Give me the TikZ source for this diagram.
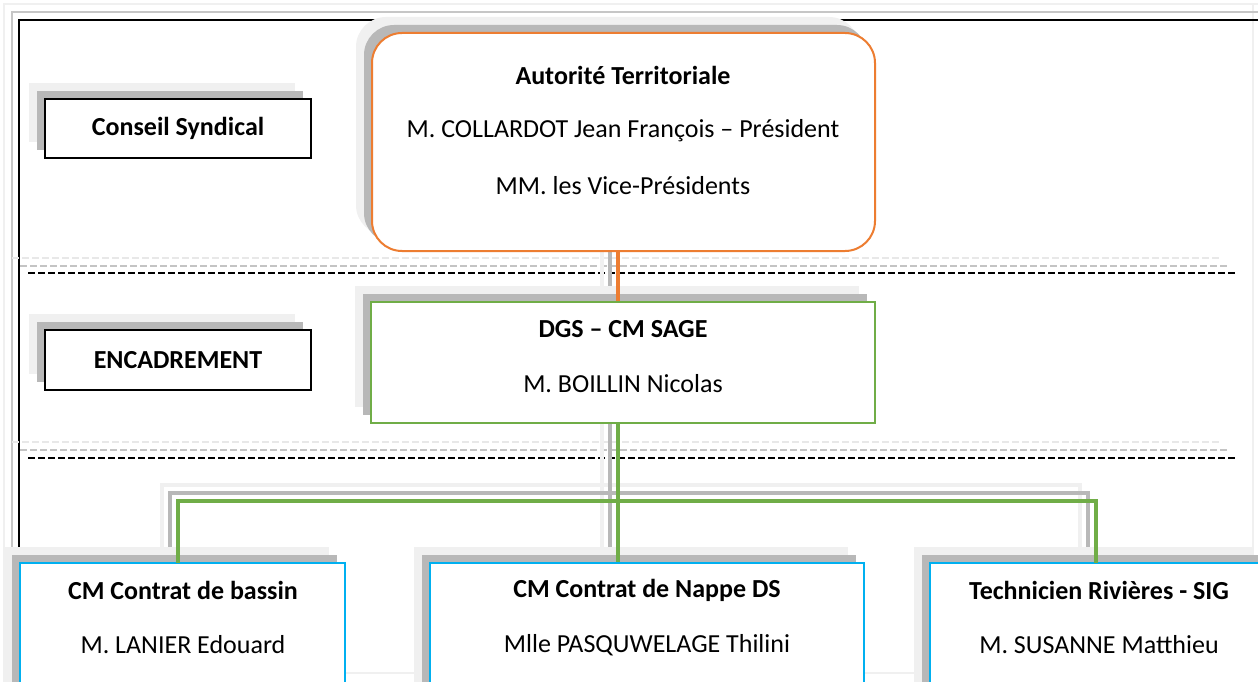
\documentclass[tikz,border=0pt]{standalone}
\usepackage{fontspec}
\setmainfont{Carlito}
\usetikzlibrary{shadows}
\definecolor{shgrey}{HTML}{B8B8B8}
\definecolor{shlight}{HTML}{F0F0F0}
\definecolor{orgline}{HTML}{ED7D31}
\definecolor{grnline}{HTML}{70AD47}
\definecolor{blueline}{HTML}{00B0F0}
\definecolor{dashgrey}{HTML}{C4C4C4}
\definecolor{dashlight}{HTML}{E8E8E8}
\begin{document}
\begin{tikzpicture}[x=1pt,y=-1pt,
  shadowed/.style={general shadow={shadow xshift=-16pt,shadow yshift=16pt,fill=shlight,draw=none},
                   general shadow={shadow xshift=-8pt,shadow yshift=8pt,fill=shgrey,draw=none}},
  boxbase/.style={rectangle,fill=white,inner sep=0pt,shadowed},
  labelbox/.style={boxbase,draw=black,line width=2pt},
  autbox/.style={boxbase,draw=orgline,line width=2pt,rounded corners=30pt},
  dgsbox/.style={boxbase,draw=grnline,line width=2pt},
  staffbox/.style={boxbase,draw=blueline,line width=2pt},
  titletxt/.style={font=\fontsize{26}{30}\selectfont\bfseries,inner sep=0pt},
  nametxt/.style={font=\fontsize{26}{30}\selectfont,inner sep=0pt},
  sepblack/.style={draw=black,line width=1.5pt,dash pattern=on 7pt off 3pt},
  sepgrey/.style={draw=dashgrey,line width=1.5pt,dash pattern=on 7pt off 3pt},
  seplight/.style={draw=dashlight,line width=1.5pt,dash pattern=on 7pt off 3pt},
  orgconn/.style={draw=orgline,line width=4.5pt},
  grnconn/.style={draw=grnline,line width=4.5pt},
  greyconn/.style={draw=shgrey,line width=4.5pt},
  lightconn/.style={draw=shlight,line width=4.5pt}]
\path[use as bounding box,fill=white] (0,0) rectangle (1258,682);
\clip (0,0) rectangle (1258,682);

% outer frame with its shadow lines
\draw[shlight,line width=2pt] (4,682) -- (4,4) -- (1258,4);
\draw[shlight,line width=2pt] (1253,4) -- (1253,682);
\draw[shlight,line width=2pt] (4,673) -- (1258,673);
\draw[shgrey!80,line width=1.5pt] (12,682) -- (12,12) -- (1258,12);
\draw[black,line width=1.3pt] (19,682) -- (19,20) -- (1258,20);

% separators
\draw[seplight] (12,258) -- (1221,258);
\draw[sepgrey] (20,266) -- (1229,266);
\draw[sepblack] (28,273) -- (1237,273);
\draw[seplight] (12,442) -- (1221,442);
\draw[sepgrey] (20,450) -- (1229,450);
\draw[sepblack] (28,458) -- (1237,458);

% connector shadows
\begin{scope}[shift={(-16,-16)}]
  \draw[lightconn] (618,251) -- (618,302);
  \draw[lightconn] (618,423) -- (618,563);
  \draw[lightconn] (178,563) |- (1096,501) -- (1096,563);
\end{scope}
\begin{scope}[shift={(-8,-8)}]
  \draw[greyconn] (618,251) -- (618,302);
  \draw[greyconn] (618,423) -- (618,563);
  \draw[greyconn] (178,563) |- (1096,501) -- (1096,563);
\end{scope}

% level label boxes
\node[labelbox,minimum width=266pt,minimum height=59pt] (cs) at (178,128.5) {};
\node[titletxt] (cstxt) at (cs.center) {Conseil Syndical};
\node[labelbox,minimum width=266pt,minimum height=60pt] (enc) at (178,360) {};
\node[titletxt] (enctxt) at (enc.center) {ENCADREMENT};

% main boxes
\node[autbox,minimum width=503pt,minimum height=218pt] (aut) at (623.5,142) {};
\node[titletxt] (aut1) at (623,75) {Autorité Territoriale};
\node[nametxt] (aut2) at (623,131) {M. COLLARDOT Jean François – Président};
\node[nametxt] (aut3) at (623,186) {MM. les Vice-Présidents};

\node[dgsbox,minimum width=504pt,minimum height=121pt] (dgs) at (623,362.5) {};
\node[titletxt] (dgs1) at (623,329) {DGS – CM SAGE};
\node[nametxt] (dgs2) at (623,384) {M. BOILLIN Nicolas};

\node[staffbox,minimum width=325pt,minimum height=140pt] (b1) at (182.5,633) {};
\node[titletxt] (b1t) at (183,590) {CM Contrat de bassin};
\node[nametxt] (b1n) at (183,645) {M. LANIER Edouard};

\node[staffbox,minimum width=434pt,minimum height=140pt] (b2) at (647,633) {};
\node[titletxt] (b2t) at (647,590) {CM Contrat de Nappe DS};
\node[nametxt] (b2n) at (647,645) {Mlle PASQUWELAGE Thilini};

\node[staffbox,minimum width=338pt,minimum height=140pt] (b3) at (1099,633) {};
\node[titletxt] (b3t) at (1099,590) {Technicien Rivières - SIG};
\node[nametxt] (b3n) at (1099,645) {M. SUSANNE Matthieu};

% connectors
\coordinate (jn) at (618,501);
\coordinate (c1) at (178,563);
\coordinate (c3) at (1096,563);
\draw[orgconn] (aut.south -| jn) -- (dgs.north -| jn);
\draw[grnconn] (dgs.south -| jn) -- (b2.north -| jn);
\draw[grnconn] (c1) |- (jn) -| (c3);
\end{tikzpicture}
\end{document}
